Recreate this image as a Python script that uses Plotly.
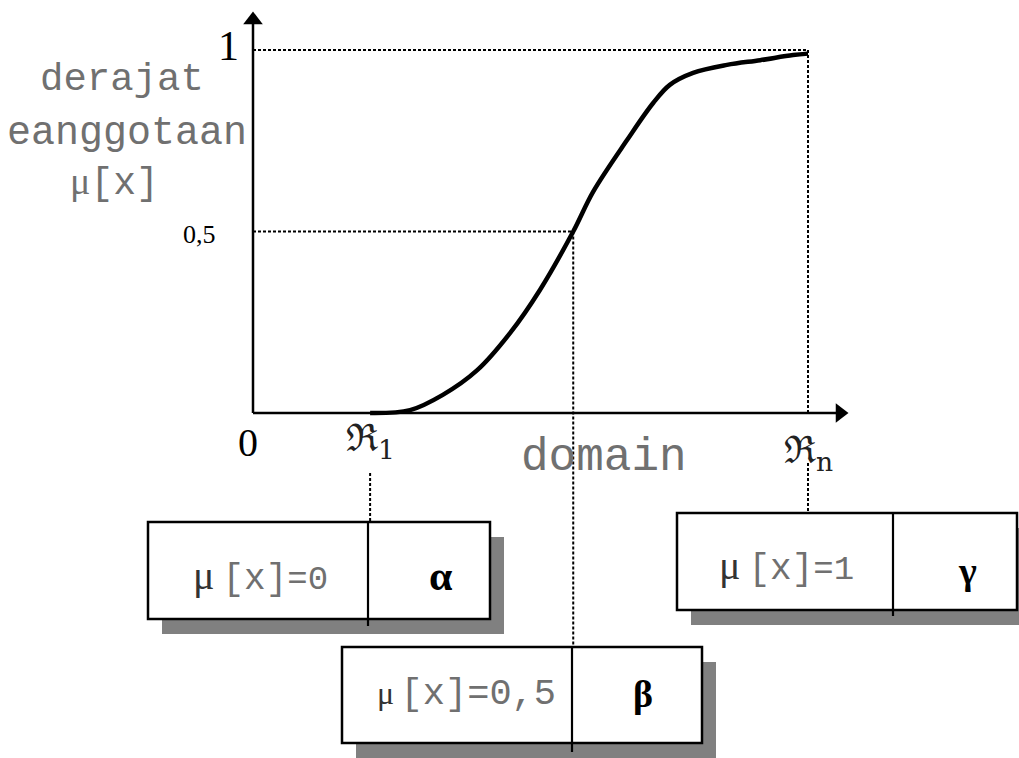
import plotly.graph_objects as go

# ---- data (membership function, domain units 0..1 along the universe) ----
curve_x = [0.211, 0.283, 0.342, 0.404, 0.463, 0.517, 0.577, 0.613, 0.674, 0.721, 0.751, 0.793, 0.854, 0.914, 0.973, 1.0]
curve_y = [0.0, 0.008, 0.05, 0.118, 0.22, 0.339, 0.50, 0.61, 0.752, 0.854, 0.904, 0.937, 0.959, 0.972, 0.986, 0.99]
alpha_x = 0.211   # R1
beta_x = 0.577    # crossover
gamma_x = 1.0     # Rn
levels = [0, 0.5, 1]
level_labels = ["0", "0,5", "1"]
box_eq = ["=0", "=0,5", "=1"]
param_labels = ["α", "β", "γ"]

# ---- layout helpers (pixel -> axis units) ----
W, H = 1019, 758
X0_PX, X1_PX = 253, 808
Y0_PX, Y1_PX = 413, 50
def X(px): return (px - X0_PX) / (X1_PX - X0_PX)
def Y(py): return (Y0_PX - py) / (Y0_PX - Y1_PX)

SERIF = "Liberation Serif, DejaVu Serif, serif"
MONO = "Liberation Mono, DejaVu Sans Mono, monospace"
GRAY = "#707070"

fig = go.Figure()
# axes lines
fig.add_trace(go.Scatter(x=[0, X(838)], y=[0, 0], mode="lines", line=dict(color="black", width=2.5),
                         hoverinfo="skip", showlegend=False))
fig.add_trace(go.Scatter(x=[0, 0], y=[0, Y(24)], mode="lines", line=dict(color="black", width=2.5),
                         hoverinfo="skip", showlegend=False))
# arrow heads
fig.add_trace(go.Scatter(x=[X(840)], y=[0], mode="markers",
                         marker=dict(symbol="triangle-right", size=17, color="black"),
                         hoverinfo="skip", showlegend=False))
fig.add_trace(go.Scatter(x=[0], y=[Y(20)], mode="markers",
                         marker=dict(symbol="triangle-up", size=17, color="black"),
                         hoverinfo="skip", showlegend=False))
# membership curve
fig.add_trace(go.Scatter(x=curve_x, y=curve_y, mode="lines",
                         line=dict(color="black", width=4.5, shape="spline", smoothing=1.0),
                         hoverinfo="skip", showlegend=False))

shapes = []
dot = dict(color="black", width=2, dash="3px,2px")
# dotted guides
shapes.append(dict(type="line", xref="x", yref="y", x0=0, x1=gamma_x, y0=levels[2], y1=levels[2], line=dot, layer="below"))
shapes.append(dict(type="line", xref="x", yref="y", x0=0, x1=beta_x, y0=levels[1], y1=levels[1], line=dot, layer="below"))
shapes.append(dict(type="line", xref="x", yref="y", x0=gamma_x, x1=gamma_x, y0=levels[2], y1=levels[0], line=dot, layer="below"))
shapes.append(dict(type="line", xref="x", yref="y", x0=beta_x, x1=beta_x, y0=levels[1], y1=Y(647), line=dot, layer="below"))
shapes.append(dict(type="line", xref="x", yref="y", x0=alpha_x, x1=alpha_x, y0=Y(473), y1=Y(522), line=dot))
shapes.append(dict(type="line", xref="x", yref="y", x0=gamma_x, x1=gamma_x, y0=Y(463), y1=Y(513), line=dot))

# boxes: (left, top, right, bottom, divider_x, divider_bottom) in pixels
boxes = [
    (148, 522, 490, 619, 368, 626),
    (342, 647, 702, 743, 572, 752),
    (677, 513, 1017, 610, 893, 616),
]
for (l, t, r, b, dv, db) in boxes:
    shapes.append(dict(type="rect", xref="x", yref="y", x0=X(l + 14), x1=X(r + 14), y0=Y(t + 15), y1=Y(b + 15),
                       fillcolor="#808080", line=dict(width=0), layer="above"))
    shapes.append(dict(type="rect", xref="x", yref="y", x0=X(l), x1=X(r), y0=Y(t), y1=Y(b),
                       fillcolor="white", line=dict(color="black", width=2.5), layer="above"))
    shapes.append(dict(type="line", xref="x", yref="y", x0=X(dv), x1=X(dv), y0=Y(t), y1=Y(db),
                       line=dict(color="black", width=2.2), layer="above"))

ann = []
def txt(xp, yp, text, size, family, color="black", xanchor="center"):
    ann.append(dict(x=X(xp), y=Y(yp), xref="x", yref="y", text=text, showarrow=False,
                    font=dict(size=size, family=family, color=color), xanchor=xanchor, yanchor="middle"))

txt(228, 46, level_labels[2], 42, SERIF)
txt(199, 234, level_labels[1], 26, SERIF)
txt(248, 442, level_labels[0], 40, SERIF)
txt(122, 80, "derajat", 39, MONO, GRAY)
txt(127, 133, "eanggotaan", 40, MONO, GRAY)
txt(114, 182, "<span style=\"font-family:'Liberation Serif'\">μ</span>[x]", 38, MONO, GRAY)
txt(604, 458, "domain", 46, MONO, GRAY)
txt(370, 440, "ℜ<sub>1</sub>", 38, "DejaVu Serif, serif", "#222")
txt(808, 452, "ℜ<sub>n</sub>", 38, "DejaVu Serif, serif", "#222")

def mu_label(eq, mu_size, eq_size):
    return ("<span style=\"font-family:'Liberation Serif';color:#333333;font-size:%dpx\">μ\u2009</span>" % mu_size +
            "[x]<span style=\"font-size:%dpx\">%s</span>" % (eq_size, eq))

txt(260, 576, mu_label(box_eq[0], 40, 34), 36, MONO, GRAY)
txt(441, 576, "<b>" + param_labels[0] + "</b>", 42, SERIF)
txt(466, 694, mu_label(box_eq[1], 32, 37), 37, MONO, GRAY)
txt(643, 694, "<b>" + param_labels[1] + "</b>", 38, SERIF)
txt(786, 566, mu_label(box_eq[2], 40, 34), 36, MONO, GRAY)
txt(967, 571, "<b>" + param_labels[2] + "</b>", 38, SERIF)

fig.update_layout(
    width=W, height=H, margin=dict(l=0, r=0, t=0, b=0),
    paper_bgcolor="white", plot_bgcolor="white",
    xaxis=dict(range=[X(0), X(W)], visible=False, fixedrange=True),
    yaxis=dict(range=[Y(H), Y(0)], visible=False, fixedrange=True),
    shapes=shapes, annotations=ann, showlegend=False,
)
fig.write_html("out.html", config={"displayModeBar": False},
               post_script="document.body.style.margin='0';document.body.style.overflow='hidden';")
